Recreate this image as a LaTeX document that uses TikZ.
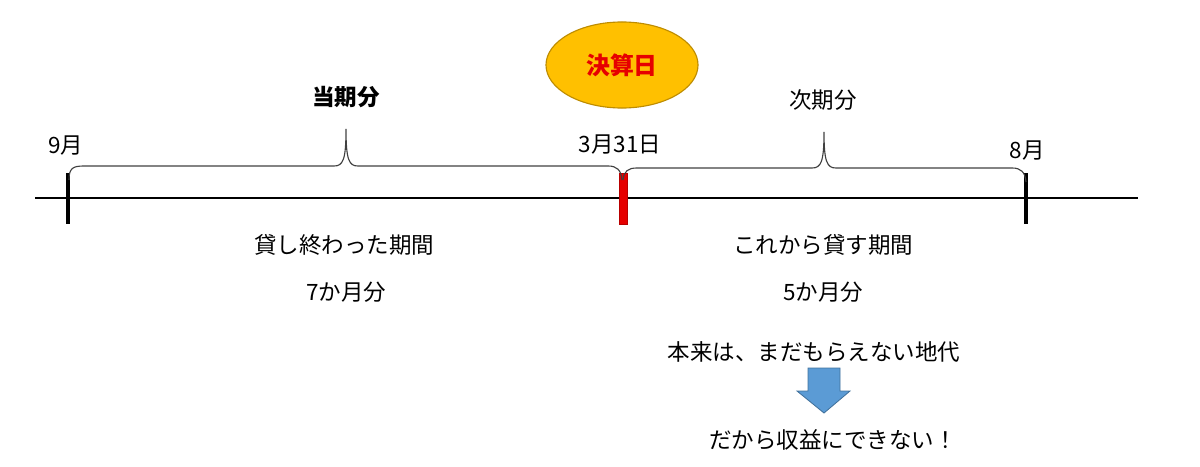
\documentclass[tikz,border=0pt]{standalone}
\usepackage{fontspec}
\setmainfont{Noto Sans CJK JP}
\usepackage{xcolor}
\usepackage{tikz}
\usetikzlibrary{shapes,arrows,positioning,calc}
\definecolor{settlegold}{RGB}{255, 192, 0}
\definecolor{settleedge}{RGB}{190, 140, 0}
\definecolor{settlered}{RGB}{230, 0, 0}
\definecolor{downblue}{RGB}{91, 155, 213}
\definecolor{downedge}{RGB}{65, 113, 156}

\begin{document}
\begin{tikzpicture}[x=0.025cm, y=-0.025cm, >=stealth,
    lbl/.style={font=\fontsize{16}{19}\selectfont, inner sep=1pt},
    bracepath/.style={line width=0.8pt, draw=black!75},
    tickmark/.style={line width=3pt}]
        \useasboundingbox (0, 0) rectangle (1200, 466);

        % Time axis
        \coordinate (axisL) at (35, 198);
        \coordinate (axisR) at (1138, 198);
        \draw[line width=1pt] (axisL) -- (axisR);

        % Tick marks
        \draw[tickmark] (68, 173) -- (68, 224);
        \draw[tickmark, line width=2.5pt] (1026, 173) -- (1026, 224);
        \draw[fill=settlered, draw=settlered!80!black, line width=0.4pt] (619, 173) rectangle (627, 224);

        % Dates
        \node[lbl] (sep) at (66, 146) {9月};
        \node[lbl] (mar) at (620, 145) {3月31日};
        \node[lbl] (aug) at (1027, 151) {8月};

        % Settlement day
        \node[ellipse, fill=settlegold, draw=settleedge, line width=0.8pt,
              minimum width=3.8cm, minimum height=2.15cm] (settle) at (622, 65) {};
        \node[lbl, font=\fontsize{17}{20}\selectfont\bfseries, text=settlered] (settletxt) at (settle) {決算日};

        % Brace: current period
        \draw[bracepath] (69, 180) .. controls (69, 168) and (73, 166) .. (84, 166)
            -- (334, 166) .. controls (343, 166) and (346, 160) .. (346, 129)
            .. controls (346, 160) and (349, 166) .. (358, 166)
            -- (608, 166) .. controls (617, 166) and (621, 170) .. (622, 180);
        \node[lbl, font=\fontsize{16}{19}\selectfont\bfseries] (curr) at (346, 97) {当期分};

        % Brace: next period
        \draw[bracepath] (623, 180) .. controls (624, 171) and (628, 168) .. (637, 168)
            -- (812, 168) .. controls (821, 168) and (824, 162) .. (824, 132)
            .. controls (824, 162) and (827, 168) .. (836, 168)
            -- (1012, 168) .. controls (1021, 168) and (1025, 172) .. (1026, 182);
        \node[lbl] (next) at (823, 100) {次期分};

        % Period texts
        \node[lbl] (lentdone) at (344, 245) {貸し終わった期間};
        \node[lbl] (seven) at (346, 292) {7か月分};
        \node[lbl] (lentnext) at (823, 245) {これから貸す期間};
        \node[lbl] (five) at (823, 292) {5か月分};

        % Conclusion
        \node[lbl] (notyet) at (814, 352) {本来は、まだもらえない地代};
        \draw[fill=downblue, draw=downedge, line width=0.6pt]
            (808, 368) -- (840, 368) -- (840, 391) -- (850, 391) -- (824, 413)
            -- (797, 391) -- (808, 391) -- cycle;
        \node[lbl] (noincome) at (833, 440) {だから収益にできない！};
    \end{tikzpicture}
\end{document}
